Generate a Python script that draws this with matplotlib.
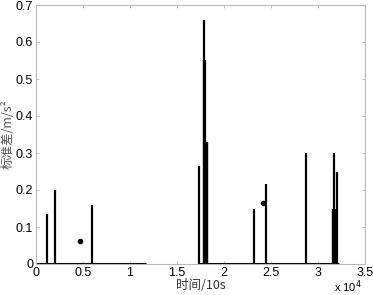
import matplotlib
matplotlib.use('Agg')
import matplotlib.pyplot as plt

plt.rcParams['font.family'] = ['Liberation Sans', 'Noto Sans CJK SC', 'DejaVu Sans']
plt.rcParams['font.size'] = 9

# spikes of the standard deviation (time in units of 10s)
spike_t = [1170, 2020, 5960,
           17300, 17870, 17920, 17960, 18010, 18060, 18110, 18160, 18210,
           23200, 24500, 28700,
           31550, 31600, 31650, 31700, 31750, 31800, 31850, 32000]
spike_h = [0.135, 0.2, 0.16,
           0.265, 0.66, 0.55, 0.55, 0.33, 0.33, 0.33, 0.33, 0.33,
           0.15, 0.215, 0.3,
           0.15, 0.15, 0.3, 0.15, 0.15, 0.15, 0.15, 0.25]

# flat (zero) sections of the record
seg_start = [0, 17300]
seg_end = [11700, 32200]

# isolated points
dot_t = [4680, 24100]
dot_h = [0.062, 0.165]

fig = plt.figure(figsize=(3.73, 2.95), dpi=100)
ax = fig.add_axes([36/373, 1 - 264/295, 329/373, 259/295])

ax.hlines([0] * len(seg_start), seg_start, seg_end, colors='k', linewidth=2.2)
ax.vlines(spike_t, 0, spike_h, colors='k', linewidth=1.6)
ax.plot(dot_t, dot_h, 'k.', markersize=6)

ax.set_xlim(0, 35000)
ax.set_ylim(0, 0.7)
ax.set_xticks([0, 5000, 10000, 15000, 20000, 25000, 30000, 35000])
ax.set_xticklabels(['0', '0.5', '1', '1.5', '2', '2.5', '3', '3.5'])
ax.set_yticks([0, 0.1, 0.2, 0.3, 0.4, 0.5, 0.6, 0.7])
ax.set_yticklabels(['0', '0.1', '0.2', '0.3', '0.4', '0.5', '0.6', '0.7'])
ax.tick_params(direction='in', top=True, right=True, length=2.5, width=0.5,
               color='#aaaaaa', pad=2)
for sp in ax.spines.values():
    sp.set_color('#bbbbbb')
    sp.set_linewidth(0.8)

cjk = ['Noto Sans CJK SC', 'Liberation Sans', 'DejaVu Sans']
ax.set_xlabel('时间/10s', labelpad=0, family=cjk, color='#333333')
ax.set_ylabel('标准差/m/s²', labelpad=1, family=cjk, color='#555555')
ax.text(0.991, -0.108, 'x 10$^4$', transform=ax.transAxes, ha='right',
        va='baseline', fontsize=8)

fig.savefig('out.png', dpi=100)
